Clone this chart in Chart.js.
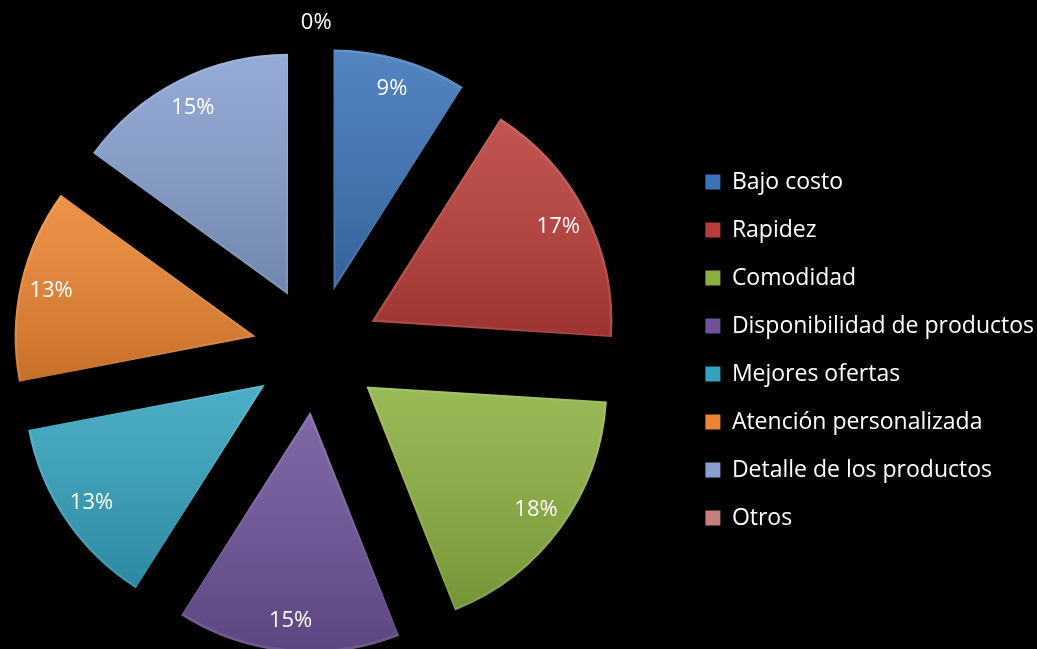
<!DOCTYPE html>
<html>
<head>
<meta charset="utf-8">
<script src="https://cdn.jsdelivr.net/npm/chart.js@4"></script>
<style>
  html, body { margin: 0; padding: 0; background: #000; overflow: hidden; }
  #wrap { position: absolute; left: -48px; top: 0; width: 1092px; height: 649px; }
</style>
</head>
<body>
<div id="wrap"><canvas id="pieChart"></canvas></div>
<script>
// Motivos de compra (porcentajes)
const categorias = ['Bajo costo', 'Rapidez', 'Comodidad', 'Disponibilidad de productos',
  'Mejores ofertas', 'Atención personalizada', 'Detalle de los productos', 'Otros'];
const valores = [9, 17, 18, 15, 13, 13, 15, 0];
const colores = ['#3C73B8', '#BA3D39', '#8BB040', '#6E529A', '#33A2BE', '#EC8430', '#869FCF', '#C47E7C'];

const RADIO = 241;      // radio de cada porción
const SEPARACION = 248; // offset de Chart.js (se desplaza offset/4)

// Chart.js agranda y recorta las porciones pequeñas al separarlas;
// esto deja todas con el mismo radio y su ángulo completo
const radioIgual = {
  id: 'radioIgual',
  afterDatasetsUpdate(chart) {
    chart.getDatasetMeta(0).data.forEach(arc => {
      if (!arc.circumference) return;
      const off = (arc.options.offset || 0) / 4;
      const fix = 1 - Math.sin(Math.min(Math.PI, arc.circumference));
      const ro = off * fix;
      const ext = ro / (Math.PI * RADIO) / 2;
      arc.outerRadius = RADIO - ro;
      arc.startAngle -= ext;
      arc.endAngle += ext;
    });
  }
};

// Sombreado vertical de cada porción (más claro arriba, más oscuro abajo)
const sombreado = {
  id: 'sombreado',
  afterDatasetsDraw(chart) {
    const ctx = chart.ctx;
    chart.getDatasetMeta(0).data.forEach(arc => {
      if (!arc.circumference) return;
      const off = (arc.options.offset || 0) / 4;
      const mid = (arc.startAngle + arc.endAngle) / 2;
      const cx = arc.x + Math.cos(mid) * off;
      const cy = arc.y + Math.sin(mid) * off;
      let minY = cy, maxY = cy;
      for (let i = 0; i <= 40; i++) {
        const a = arc.startAngle + (arc.endAngle - arc.startAngle) * i / 40;
        const y = cy + Math.sin(a) * RADIO;
        minY = Math.min(minY, y); maxY = Math.max(maxY, y);
      }
      ctx.save();
      ctx.globalCompositeOperation = 'source-atop';
      ctx.beginPath();
      ctx.moveTo(cx, cy);
      ctx.arc(cx, cy, RADIO, arc.startAngle, arc.endAngle);
      ctx.closePath();
      ctx.clip();
      const g = ctx.createLinearGradient(0, minY, 0, maxY);
      g.addColorStop(0, 'rgba(255,255,255,0.12)');
      g.addColorStop(1, 'rgba(0,0,0,0.16)');
      ctx.fillStyle = g;
      ctx.fillRect(cx - RADIO - 2, minY - 2, RADIO * 2 + 4, maxY - minY + 4);
      ctx.lineWidth = 5;
      ctx.strokeStyle = 'rgba(255,255,255,0.10)';
      ctx.stroke();
      ctx.restore();
    });
  }
};

// Etiquetas de porcentaje dentro de cada porción
const etiquetas = {
  id: 'etiquetas',
  afterDatasetsDraw(chart) {
    const ctx = chart.ctx;
    const meta = chart.getDatasetMeta(0);
    const total = valores.reduce((a, b) => a + b, 0);
    ctx.save();
    ctx.fillStyle = '#ffffff';
    ctx.font = '22px "Open Sans"';
    ctx.textAlign = 'center';
    ctx.textBaseline = 'middle';
    meta.data.forEach((arc, i) => {
      const off = (arc.options.offset || 0) / 4;
      const mid = (arc.startAngle + arc.endAngle) / 2;
      const dist = valores[i] === 0 ? off + RADIO + 24 : off + RADIO * 0.87;
      const x = arc.x + Math.cos(mid) * dist;
      const y = arc.y + Math.sin(mid) * dist;
      ctx.fillText(Math.round(valores[i] / total * 100) + '%', x, y);
    });
    ctx.restore();
  }
};

const pieCtx = document.getElementById('pieChart').getContext('2d');

const pieChart = new Chart(pieCtx, {
  type: 'pie',
  data: {
    labels: categorias,
    datasets: [{
      data: valores,
      backgroundColor: colores,
      borderWidth: 0,
      offset: SEPARACION,
      hoverOffset: 0
    }]
  },
  options: {
    responsive: true,
    maintainAspectRatio: false,
    animation: false,
    events: [],
    radius: RADIO,
    layout: { padding: { top: 51 } },
    plugins: {
      legend: {
        position: 'right',
        labels: {
          color: '#ffffff',
          font: { family: 'Open Sans', size: 23 },
          boxWidth: 15,
          boxHeight: 15,
          padding: 25
        }
      },
      tooltip: { enabled: false }
    }
  },
  plugins: [radioIgual, sombreado, etiquetas]
});
</script>
</body>
</html>
